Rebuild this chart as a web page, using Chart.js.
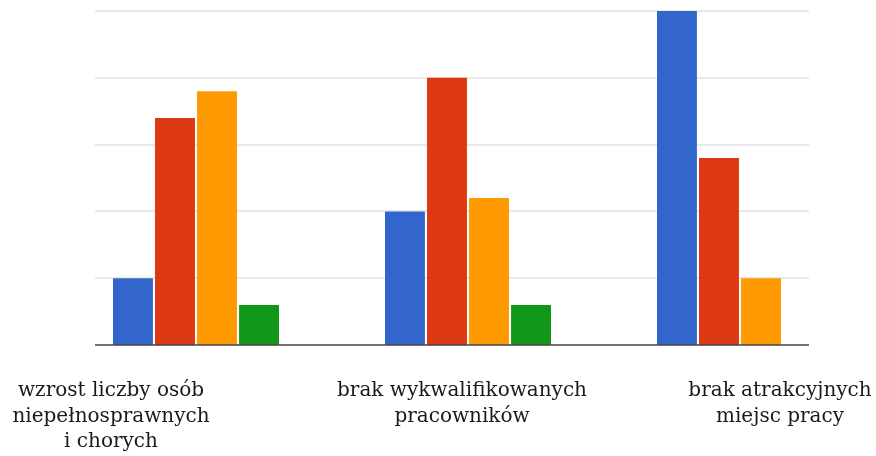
<!DOCTYPE html>
<html>
<head>
<meta charset="utf-8">
<script src="https://cdn.jsdelivr.net/npm/chart.js@4"></script>
<style>
    html, body { margin: 0; padding: 0; background: #fff; }
    #wrap { width: 876px; height: 456px; position: relative; }
</style>
</head>
<body>
<div id="wrap"><canvas id="myChart" width="876" height="456"></canvas></div>
<script>
// dane
const categories = [
    ['wzrost liczby osób', 'niepełnosprawnych', 'i chorych'],
    ['brak wykwalifikowanych', 'pracowników'],
    ['brak atrakcyjnych', 'miejsc pracy']
];
const seriesBlue = [5, 10, 25];
const seriesRed = [17, 20, 14];
const seriesOrange = [19, 11, 5];
const seriesGreen = [3, 3, 0];
const yTicks = [0, 5, 10, 15, 20, 25];

// where the category texts sit (they are not under the bars in the original)
const labelCenters = [111, 462, 780];
const labelRows = [391, 417, 442];

const gridPlugin = {
    id: 'gridPlugin',
    beforeDatasetsDraw(chart) {
        const ctx = chart.ctx;
        const y = chart.scales.y;
        ctx.save();
        ctx.strokeStyle = '#e9e9e9';
        ctx.lineWidth = 2;
        yTicks.forEach(function(v) {
            if (v === 0) return;
            const py = Math.round(y.getPixelForValue(v));
            ctx.beginPath();
            ctx.moveTo(95, py);
            ctx.lineTo(809, py);
            ctx.stroke();
        });
        ctx.restore();
    },
    afterDraw(chart) {
        const ctx = chart.ctx;
        const y = chart.scales.y;
        ctx.save();
        // baseline
        const py = y.getPixelForValue(0);
        ctx.strokeStyle = '#444';
        ctx.lineWidth = 1.5;
        ctx.beginPath();
        ctx.moveTo(95, py);
        ctx.lineTo(809, py);
        ctx.stroke();
        // category labels
        ctx.fillStyle = '#1a1a1a';
        ctx.font = '20px "DejaVu Serif"';
        ctx.textAlign = 'center';
        ctx.textBaseline = 'middle';
        categories.forEach(function(lines, i) {
            lines.forEach(function(t, j) {
                ctx.fillText(t, labelCenters[i], labelRows[j]);
            });
        });
        ctx.restore();
    }
};

const data = {
    labels: categories.map(function(c) { return c.join(' '); }),
    datasets: [
        { data: seriesBlue, backgroundColor: '#3366cc' },
        { data: seriesRed, backgroundColor: '#dc3912' },
        { data: seriesOrange, backgroundColor: '#ff9900' },
        { data: seriesGreen, backgroundColor: '#109618' }
    ]
};

const config = {
    type: 'bar',
    data: data,
    options: {
        responsive: false,
        animation: false,
        layout: {
            padding: { top: 11, bottom: 111, left: 60, right: 0 }
        },
        datasets: {
            bar: {
                categoryPercentage: 0.618,
                barPercentage: 0.95,
                borderWidth: 0
            }
        },
        plugins: {
            legend: { display: false },
            tooltip: { enabled: false }
        },
        scales: {
            x: { display: false },
            y: {
                display: false,
                min: 0,
                max: 25,
                ticks: { stepSize: 5 }
            }
        }
    },
    plugins: [gridPlugin]
};

const myChart = new Chart(document.getElementById('myChart'), config);
</script>
</body>
</html>
